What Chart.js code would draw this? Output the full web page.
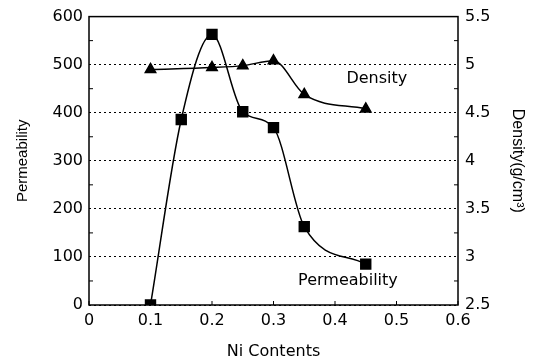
<!DOCTYPE html>
<html>
<head>
<meta charset="utf-8">
<script src="https://cdn.jsdelivr.net/npm/chart.js@4/dist/chart.umd.min.js"></script>
<style>
  html, body { margin: 0; padding: 0; background: #fff; }
  #wrap { width: 539px; height: 361px; }
</style>
</head>
<body>
<div id="wrap"><canvas id="myChart" width="539" height="361"></canvas></div>
<script>
// данные
const niContents = [0.1, 0.15, 0.2, 0.25, 0.3, 0.35, 0.45]
const permeability = [0, 386, 563, 402, 369, 163, 85]

const niDensity = [0.1, 0.2, 0.25, 0.3, 0.35, 0.45]
const density = [4.95, 4.97, 4.99, 5.04, 4.69, 4.54]

const xTicks = [0, 0.1, 0.2, 0.3, 0.4, 0.5, 0.6]

const hFont = { family: 'DejaVu Sans', size: 16 }
const vFont = { family: 'Liberation Sans', size: 15 }

// рамка, мелкие засечки и подписи внутри графика
const extras = {
    id: 'extras',
    afterDraw(chart) {
        const { ctx, chartArea: a, scales } = chart
        ctx.save()
        ctx.strokeStyle = '#000'
        ctx.lineWidth = 1
        ctx.beginPath()
        // засечки внутрь
        for (let v = 50; v < 600; v += 100) {
            const y = scales.y.getPixelForValue(v)
            ctx.moveTo(a.left, y); ctx.lineTo(a.left + 4, y)
        }
        for (let v = 2.75; v < 5.5; v += 0.5) {
            const y = scales.y2.getPixelForValue(v)
            ctx.moveTo(a.right, y); ctx.lineTo(a.right - 4, y)
        }
        xTicks.forEach(v => {
            const x = scales.x.getPixelForValue(v)
            ctx.moveTo(x, a.bottom); ctx.lineTo(x, a.bottom - 4)
        })
        ctx.stroke()
        ctx.lineWidth = 1.5
        ctx.strokeRect(a.left, a.top, a.right - a.left, a.bottom - a.top)
        ctx.fillStyle = '#000'
        ctx.font = '16px "DejaVu Sans"'
        ctx.textAlign = 'center'
        ctx.textBaseline = 'middle'
        ctx.fillText('Density', scales.x.getPixelForValue(0.468), scales.y2.getPixelForValue(4.85))
        ctx.fillText('Permeability', scales.x.getPixelForValue(0.421), scales.y.getPixelForValue(50))
        ctx.restore()
    }
}

const ctx = document.getElementById('myChart').getContext('2d')

const myChart = new Chart(ctx, {
    type: 'scatter',
    data: {
        datasets: [{
            label: 'Permeability',
            data: niContents.map((x, i) => ({ x: x, y: permeability[i] })),
            yAxisID: 'y',
            showLine: true,
            borderColor: '#000',
            backgroundColor: '#000',
            borderWidth: 1.5,
            pointStyle: 'rect',
            pointRadius: 7,
            cubicInterpolationMode: 'monotone'
        }, {
            label: 'Density',
            data: niDensity.map((x, i) => ({ x: x, y: density[i] })),
            yAxisID: 'y2',
            showLine: true,
            borderColor: '#000',
            backgroundColor: '#000',
            borderWidth: 1.5,
            pointStyle: 'triangle',
            pointRadius: 6,
            cubicInterpolationMode: 'monotone'
        }]
    },
    options: {
        responsive: false,
        animation: false,
        layout: { padding: { top: 14, left: 0, right: 0, bottom: 0 } },
        plugins: {
            legend: { display: false },
            tooltip: { enabled: false }
        },
        scales: {
            x: {
                type: 'linear',
                min: 0,
                max: 0.6,
                afterBuildTicks: (s) => { s.ticks = xTicks.map(v => ({ value: v })) },
                afterFit: (s) => { s.height = 56 },
                grid: { display: false, drawTicks: false },
                border: { display: false },
                ticks: {
                    color: '#000',
                    font: hFont,
                    padding: 6,
                    maxRotation: 0,
                    callback: (v) => v === 0 ? '0' : v.toFixed(1)
                },
                title: {
                    display: true,
                    text: 'Ni Contents',
                    color: '#000',
                    font: hFont,
                    padding: { top: 4, bottom: 0 }
                }
            },
            y: {
                position: 'left',
                min: 0,
                max: 600,
                afterFit: (s) => { s.width = 89 },
                grid: { color: '#000', lineWidth: 1, drawTicks: false },
                border: { display: false, dash: [2, 3] },
                ticks: { stepSize: 100, color: '#000', font: hFont, padding: 6 },
                title: {
                    display: true,
                    text: 'Permeability',
                    color: '#000',
                    font: vFont,
                    padding: { top: 14, bottom: 0 }
                }
            },
            y2: {
                position: 'right',
                min: 2.5,
                max: 5.5,
                afterFit: (s) => { s.width = 81 },
                grid: { display: false, drawTicks: false },
                border: { display: false },
                ticks: {
                    stepSize: 0.5,
                    color: '#000',
                    font: hFont,
                    padding: 7,
                    callback: (v) => String(Math.round(v * 10) / 10)
                },
                title: {
                    display: true,
                    text: 'Density(g/cm³)',
                    color: '#000',
                    font: { family: 'Liberation Sans', size: 16 },
                    padding: { top: 12, bottom: 0 }
                }
            }
        }
    },
    plugins: [extras]
})
</script>
</body>
</html>
